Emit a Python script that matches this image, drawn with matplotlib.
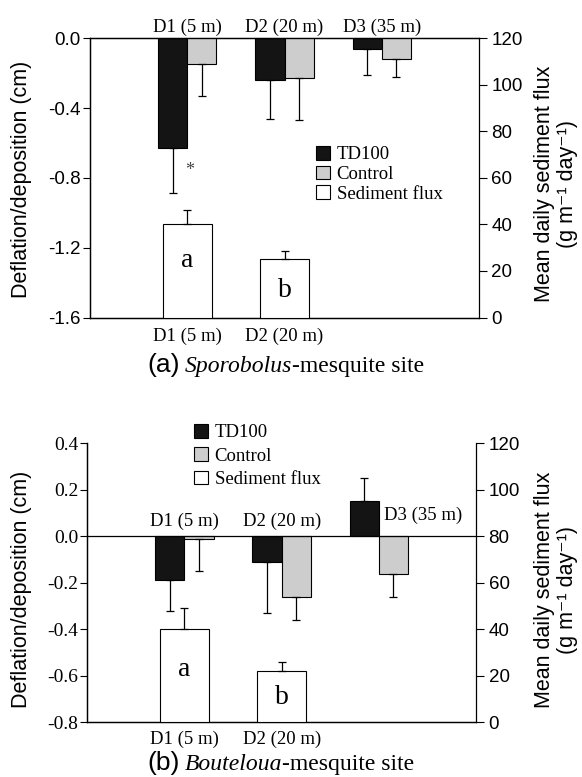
import matplotlib
matplotlib.use("Agg")
import matplotlib.pyplot as plt
from matplotlib.patches import Patch
import numpy as np

groups = ['D1 (5 m)', 'D2 (20 m)', 'D3 (35 m)']
flux_groups = ['D1 (5 m)', 'D2 (20 m)']
flux_letters = ['a', 'b']

# Panel (a) Sporobolus-mesquite site
a_td = [-0.63, -0.24, -0.06]
a_td_err = [0.255, 0.225, 0.15]
a_ctrl = [-0.15, -0.23, -0.12]
a_ctrl_err = [0.18, 0.24, 0.10]
a_flux = [40, 25]
a_flux_err = [6, 3.6]

# Panel (b) Bouteloua-mesquite site
b_td = [-0.19, -0.11, 0.15]
b_td_err = [0.13, 0.22, 0.10]
b_ctrl = [-0.01, -0.26, -0.16]
b_ctrl_err = [0.14, 0.10, 0.10]
b_flux = [40, 22]
b_flux_err = [9, 4]

SANS = 'Liberation Sans'
SERIF = 'Liberation Serif'
C_TD = '#141414'
C_CT = '#cdcdcd'
W, H = 582, 777

fig = plt.figure(figsize=(W / 100, H / 100), dpi=100)


def one_sided(vals, errs):
    lo, hi = [], []
    for v, e in zip(vals, errs):
        if v < 0:
            lo.append(e); hi.append(0)
        else:
            lo.append(0); hi.append(e)
    return [lo, hi]


def panel(rect, td, td_err, ct, ct_err, flux, flux_err, ylim, yticks, left_font, left_fs,
          top_spine, bottom_off):
    ax = fig.add_axes(rect)
    x = np.arange(1, len(groups) + 1)
    w = 0.3
    ekw = dict(ecolor='black', elinewidth=0.9, capsize=3, capthick=0.9)
    ax.bar(x - w / 2, td, w, color=C_TD, edgecolor='black', linewidth=0.8,
           yerr=one_sided(td, td_err), error_kw=ekw, zorder=3)
    ax.bar(x + w / 2, ct, w, color=C_CT, edgecolor='black', linewidth=0.8,
           yerr=one_sided(ct, ct_err), error_kw=ekw, zorder=3)
    ax.set_xlim(0, 4)
    ax.set_ylim(*ylim)
    ax.set_yticks(yticks)
    ax.set_yticklabels(['%.1f' % t for t in yticks], fontfamily=left_font, fontsize=left_fs)
    ax.set_xticks([])
    ax.tick_params(axis='y', direction='out', length=5, width=0.8, pad=1.5)
    ax.spines['top'].set_visible(top_spine)
    ax.spines['right'].set_visible(False)
    if not top_spine:
        ax.axhline(0, color='black', linewidth=0.9, zorder=4)
    for s in ax.spines.values():
        s.set_linewidth(0.9)

    ax2 = ax.twinx()
    xf = np.arange(1, len(flux) + 1)
    ax2.bar(xf, flux, 0.5, color='white', edgecolor='black', linewidth=0.8,
            yerr=[[0] * len(flux), flux_err], error_kw=ekw, zorder=3)
    ax2.set_ylim(0, 120)
    ax2.set_yticks(np.arange(0, 121, 20))
    ax2.set_yticklabels([str(t) for t in range(0, 121, 20)], fontfamily=SANS, fontsize=13.5)
    ax2.tick_params(axis='y', direction='out', length=6, width=0.8, pad=3)
    ax2.spines['top'].set_visible(top_spine)
    for s in ax2.spines.values():
        s.set_linewidth(0.9)
    for i, g in enumerate(flux_groups):
        ax.text(i + 1, bottom_off, g, transform=ax.get_xaxis_transform(), ha='center', va='top',
                fontfamily=SERIF, fontsize=13.5)
    return ax, ax2


def side_labels(yc_left, yc_right):
    fig.text(22 / W, 1 - yc_left / H, 'Deflation/deposition (cm)', rotation=90,
             ha='center', va='center', fontfamily=SANS, fontsize=15.5)
    fig.text(556 / W, 1 - yc_right / H,
             'Mean daily sediment flux\n(g m\u207b\u00b9 day\u207b\u00b9)',
             rotation=90, ha='center', va='center', fontfamily=[SANS, 'DejaVu Sans'],
             fontsize=15.5, linespacing=1.1, multialignment='center')


def title(ypix, tag, ital, rest):
    yf = 1 - ypix / H
    t1 = fig.text(147 / W, yf, tag, fontfamily=SANS, fontsize=19, va='baseline', ha='left')
    fig.canvas.draw()
    bb = t1.get_window_extent()
    t2 = fig.text((bb.x1 + 5) / W, yf, ital, fontfamily=SERIF, fontstyle='italic',
                  fontsize=17, va='baseline')
    fig.canvas.draw()
    bb2 = t2.get_window_extent()
    fig.text(bb2.x1 / W, yf, rest, fontfamily=SERIF, fontsize=17, va='baseline')


def legend(ax, anchor, spacing):
    ax.legend(handles=[Patch(facecolor=C_TD, edgecolor='black', linewidth=0.8, label='TD100'),
                       Patch(facecolor=C_CT, edgecolor='black', linewidth=0.8, label='Control'),
                       Patch(facecolor='white', edgecolor='black', linewidth=0.8, label='Sediment flux')],
              loc='upper left', bbox_to_anchor=anchor, frameon=False,
              prop={'family': SERIF, 'size': 13.5}, handlelength=0.75, handleheight=0.75,
              handletextpad=0.35, labelspacing=spacing, borderpad=0, borderaxespad=0)


# Panel a
axa, axa2 = panel([90 / W, 1 - 317.5 / H, 389 / W, 279.2 / H],
                  a_td, a_td_err, a_ctrl, a_ctrl_err, a_flux, a_flux_err,
                  (-1.6, 0.0), [-1.6, -1.2, -0.8, -0.4, 0.0], SANS, 13.5, True, -0.036)
for i, g in enumerate(groups):
    axa.text(i + 1, 1.01, g, transform=axa.get_xaxis_transform(), ha='center', va='bottom',
             fontfamily=SERIF, fontsize=13.5)
axa.text(1.02, -0.76, '*', ha='center', va='center', fontfamily=SERIF, fontsize=13, color='#444444')
for i, l in enumerate(flux_letters):
    axa2.text(i + 1, [24.6, 11.8][i], l, ha='center', va='center', fontfamily=SERIF, fontsize=20)
legend(axa2, (0.581, 0.615), 0.13)

# Panel b
axb, axb2 = panel([87.3 / W, 1 - 722.3 / H, 388.7 / W, 279 / H],
                  b_td, b_td_err, b_ctrl, b_ctrl_err, b_flux, b_flux_err,
                  (-0.8, 0.4), [-0.8, -0.6, -0.4, -0.2, 0.0, 0.2, 0.4], SERIF, 14, False, -0.029)
for i, g in enumerate(groups[:2]):
    axb.text(i + 1, 0.064, g, ha='center', va='center', fontfamily=SERIF, fontsize=13.5)
axb.text(3.05, 0.092, groups[2], ha='left', va='center', fontfamily=SERIF, fontsize=13.5)
for i, l in enumerate(flux_letters):
    axb2.text(i + 1, [22.5, 10.5][i], l, ha='center', va='center', fontfamily=SERIF, fontsize=20)
legend(axb2, (0.2745, 1.07), 0.32)

side_labels(179, 184)
side_labels(589, 590)
title(372, '(a)', 'Sporobolus', '-mesquite site')
title(770, '(b)', 'Bouteloua', '-mesquite site')

fig.savefig('out.png', dpi=100)
